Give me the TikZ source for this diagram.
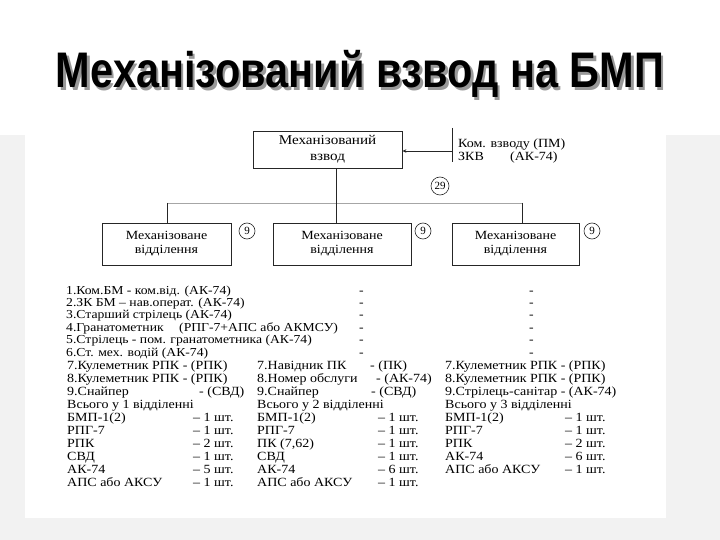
\documentclass[tikz,border=0pt]{standalone}
\usepackage{fontspec}
\setmainfont{Liberation Serif}
\newfontfamily\widefont[FakeStretch=1.12,Ligatures=TeX]{Liberation Serif}
\newfontfamily\titlefont{Liberation Sans}
\usetikzlibrary{arrows.meta}
\begin{document}
\begin{tikzpicture}[x=1pt,y=-1pt,
  wtxt/.style={anchor=west, inner sep=0pt, text height=8.5pt, text depth=2.5pt, font=\widefont\fontsize{12.5}{12.5}\selectfont},
  utxt/.style={wtxt, font=\widefont\fontsize{12.2}{12.2}\selectfont},
  unitbox/.style={draw=black!85, line width=0.8pt, align=center, font=\widefont\fontsize{12.5}{14}\selectfont},
  num/.style={draw=black!85, circle, inner sep=0pt, minimum size=16pt, line width=0.6pt, font=\fontsize{11}{11}\selectfont},
  link/.style={line width=0.8pt, draw=black!85},
  faint/.style={line width=0.7pt, draw=black!35},
  ttl/.style={anchor=base, inner sep=0pt, xscale=0.83, font=\titlefont\bfseries\fontsize{50}{50}\selectfont}]
\useasboundingbox (0,0) rectangle (720,540);
% background
\fill[white] (0,0) rectangle (720,540);
\fill[black!5] (0,135) rectangle (720,540);
\fill[white] (25,93) rectangle (666,518);
% title
\node[ttl, text=black!40] (titleshadow) at (362.5,90.5) {Механізований взвод на БМП};
\node[ttl] (title) at (360,88) {Механізований взвод на БМП};
% top box
\node[unitbox, minimum width=149pt, minimum height=37pt, font=\widefont\fontsize{13.5}{16}\selectfont] (plt) at (327.5,149.5) {Механізований\\взвод};
\coordinate (cmdtop) at (452,128);
\coordinate (cmdbot) at (452,162);
\coordinate (cmdarr) at (452,151);
\draw[link] (cmdtop) -- (cmdbot);
\draw[link, -{Stealth[length=4pt,width=3.5pt]}] (cmdarr) -- (plt.east |- cmdarr);
\node[wtxt] (cmd1) at (458,145) {Ком. взводу (ПМ)};
\node[wtxt] (cmd2) at (458,158) {ЗКВ};
\node[wtxt] (cmd3) at (510,158) {(АК-74)};
\node[num, minimum size=18pt] (n29) at (440,186) {29};
% squad boxes
\node[unitbox, minimum width=129pt, minimum height=42pt] (sq1) at (166.5,244) {Механізоване\\відділення};
\node[unitbox, minimum width=138pt, minimum height=42pt] (sq2) at (342,244) {Механізоване\\відділення};
\node[unitbox, minimum width=127pt, minimum height=42pt] (sq3) at (515.5,244) {Механізоване\\відділення};
\node[num] (n1) at (247,231) {9};
\node[num] (n2) at (423,231) {9};
\node[num] (n3) at (592,231) {9};
% connectors
\coordinate (busL) at (167,203);
\coordinate (busR) at (522,203);
\draw[faint] (busL) -- (busR);
\draw[link] (busL) -- (busL |- sq1.north);
\draw[link] (plt.south -| 336,0) -- (336,0 |- sq2.north);
\draw[link] (busR) -- (busR |- sq3.north);
% squad staff 1-6
\foreach \t [count=\j from 0] in {1.Ком.БМ - ком.від. (АК-74),
  2.ЗК БМ – нав.операт. (АК-74),
  3.Старший стрілець (АК-74),
  4.Гранатометник,
  5.Стрілець - пом. гранатометника (АК-74),
  6.Ст. мех. водій (АК-74)} {
  \node[utxt] (r\j) at (66,291+12.4*\j) {\t};
  \node[utxt] (rm\j) at (359,291+12.4*\j) {-};
  \node[utxt] (rr\j) at (529,291+12.4*\j) {-};
}
\node[utxt] (r3b) at (179,291+12.4*3) {(РПГ-7+АПС або АКМСУ)};
% left column
\foreach \t [count=\j from 0] in {7.Кулеметник РПК - (РПК), 8.Кулеметник РПК - (РПК), 9.Снайпер, Всього у 1 відділенні}
  \node[wtxt] (a\j) at (67,366+13.1*\j) {\t};
\node[wtxt] (a2d) at (199,366+13.1*2) {- (СВД)};
\foreach \t/\q [count=\j from 4] in {БМП-1(2)/1, РПГ-7/1, РПК/2, СВД/1, АК-74/5, АПС або АКСУ/1} {
  \node[wtxt] (a\j) at (67,366+13.1*\j) {\t};
  \node[wtxt] (aq\j) at (193,366+13.1*\j) {– \q{} шт.};
}
% middle column
\node[wtxt] (b0) at (257,366) {7.Навідник ПК};
\node[wtxt] (b0d) at (370,366) {- (ПК)};
\node[wtxt] (b1) at (257,366+13.1) {8.Номер обслуги};
\node[wtxt] (b1d) at (376,366+13.1) {- (АК-74)};
\node[wtxt] (b2) at (257,366+13.1*2) {9.Снайпер};
\node[wtxt] (b2d) at (371,366+13.1*2) {- (СВД)};
\node[wtxt] (b3) at (257,366+13.1*3) {Всього у 2 відділенні};
\foreach \t/\q [count=\j from 4] in {БМП-1(2)/1, РПГ-7/1, ПК (7{,}62)/1, СВД/1, АК-74/6, АПС або АКСУ/1} {
  \node[wtxt] (b\j) at (257,366+13.1*\j) {\t};
  \node[wtxt] (bq\j) at (378,366+13.1*\j) {– \q{} шт.};
}
% right column
\foreach \t [count=\j from 0] in {7.Кулеметник РПК - (РПК), 8.Кулеметник РПК - (РПК), 9.Стрілець-санітар - (АК-74), Всього у 3 відділенні}
  \node[wtxt] (c\j) at (445,366+13.1*\j) {\t};
\foreach \t/\q [count=\j from 4] in {БМП-1(2)/1, РПГ-7/1, РПК/2, АК-74/6, АПС або АКСУ/1} {
  \node[wtxt] (c\j) at (445,366+13.1*\j) {\t};
  \node[wtxt] (cq\j) at (565,366+13.1*\j) {– \q{} шт.};
}
\end{tikzpicture}
\end{document}
